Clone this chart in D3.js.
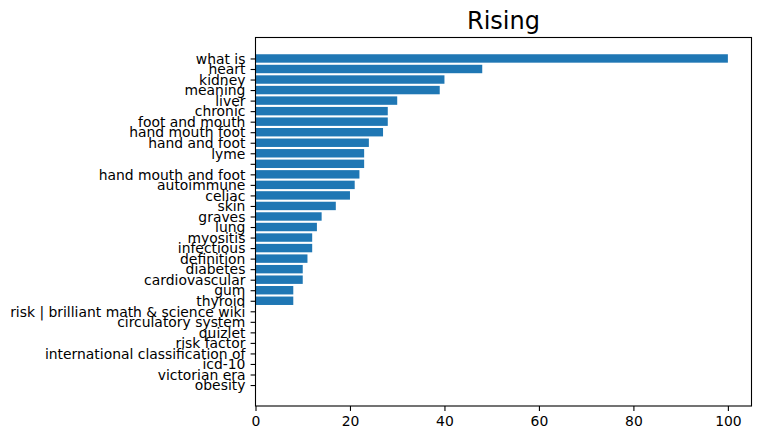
<!DOCTYPE html>
<html>
<head>
<meta charset="utf-8">
<script src="https://cdn.jsdelivr.net/npm/d3@7"></script>
<style>
  html, body { margin: 0; padding: 0; background: #fff; }
  svg { display: block; }
  text { font-family: "DejaVu Sans", sans-serif; fill: #000; }
</style>
</head>
<body>
<svg id="chart" width="760" height="440"></svg>
<script>
const categories = [
  "what is", "heart", "kidney", "meaning", "liver", "chronic", "foot and mouth",
  "hand mouth foot", "hand and foot", "lyme", "", "hand mouth and foot",
  "autoimmune", "celiac", "skin", "graves", "lung", "myositis", "infectious",
  "definition", "diabetes", "cardiovascular", "gum", "thyroid",
  "risk | brilliant math & science wiki", "circulatory system", "quizlet",
  "risk factor", "international classification of", "icd-10", "victorian era", "obesity"
];
const values = [
  100, 48, 40, 39, 30, 28, 28,
  27, 24, 23, 23, 22,
  21, 20, 17, 14, 13, 12, 12,
  11, 10, 10, 8, 8,
  0, 0, 0, 0, 0, 0, 0, 0
];
const xTicks = [0, 20, 40, 60, 80, 100];
const title = "Rising";

const svg = d3.select("#chart");
const mLeft = 255.5, mRight = 751.5, mTop = 37.5, mBottom = 406;

const n = categories.length;
const x = d3.scaleLinear().domain([0, 105]).range([mLeft, mRight]);
const pad = 0.05 * (n - 1 + 0.8);
const y = d3.scaleLinear().domain([-0.4 - pad, n - 1 + 0.4 + pad]).range([mTop, mBottom]);
const barH = 0.8;

// bars
svg.append("g").selectAll("rect")
  .data(values)
  .join("rect")
  .attr("x", x(0))
  .attr("y", (d, i) => y(i - barH / 2))
  .attr("width", d => x(d) - x(0))
  .attr("height", (d, i) => y(i + barH / 2) - y(i - barH / 2))
  .attr("fill", "#1f77b4");

// x axis
const xAxis = d3.axisBottom(x).tickValues(xTicks).tickSize(4.9).tickPadding(5.5).tickFormat(d3.format("d"));
const gx = svg.append("g").attr("transform", `translate(0,${mBottom})`).call(xAxis);
gx.select(".domain").remove();
gx.selectAll(".tick line").attr("stroke", "#000").attr("stroke-width", 1.1);
gx.selectAll(".tick text").attr("font-size", "13.9px").attr("fill", "#000")
  .attr("font-family", "DejaVu Sans, sans-serif");

// y axis
const yAxis = d3.axisLeft(y).tickValues(d3.range(n)).tickSize(4.9).tickPadding(5.2)
  .tickFormat(i => categories[i]);
const gy = svg.append("g").attr("transform", `translate(${mLeft},0)`).call(yAxis);
gy.select(".domain").remove();
gy.selectAll(".tick line").attr("stroke", "#000").attr("stroke-width", 1.1);
gy.selectAll(".tick text").attr("font-size", "13.9px").attr("fill", "#000")
  .attr("font-family", "DejaVu Sans, sans-serif").attr("dy", "0.34em");

// frame
svg.append("rect")
  .attr("x", mLeft).attr("y", mTop)
  .attr("width", mRight - mLeft).attr("height", mBottom - mTop)
  .attr("fill", "none").attr("stroke", "#000").attr("stroke-width", 1.1);

// title
svg.append("text")
  .attr("x", (mLeft + mRight) / 2).attr("y", 29)
  .attr("text-anchor", "middle")
  .attr("font-size", "24px")
  .text(title);
</script>
</body>
</html>
